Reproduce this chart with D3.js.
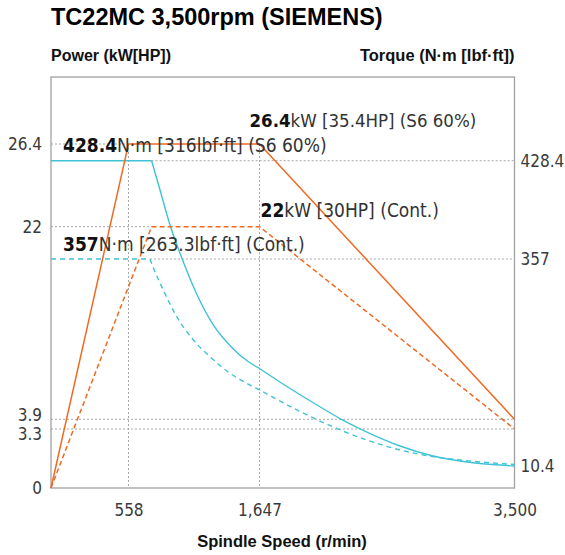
<!DOCTYPE html>
<html>
<head>
<meta charset="utf-8">
<script src="https://cdn.jsdelivr.net/npm/d3@7"></script>
<style>
  html, body { margin: 0; padding: 0; background: #fff; }
  svg { display: block; }
</style>
</head>
<body>
<svg id="chart" width="565" height="555"></svg>
<script>
// ---- data ----
const xTicks = [558, 1647, 3500];
const powerTicks = [0, 3.3, 3.9, 22, 26.4];
const torqueTicks = [10.4, 357, 428.4];
const xTickLabels = ["558", "1,647", "3,500"];
const powerTickLabels = ["0", "3.3", "3.9", "22", "26.4"];
const torqueTickLabels = ["10.4", "357", "428.4"];

const powerS6Rpm = [0, 558, 1647, 3500];
const powerS6Kw  = [0, 26.4, 26.4, 3.9];
const powerContRpm = [0, 750, 1647, 3500];
const powerContKw  = [0, 22, 22, 3.3];

// S6 torque: constant region, then two falling sections (break at 1,647 r/min)
const torqueS6Rpm = [0, 750, 820, 903, 1014, 1125, 1263, 1429, 1541, 1647, 1818, 2065, 2232, 2428, 2668, 2908, 3155, 3500];
const torqueS6Nm  = [428.4, 428.4, 407.1, 381.7, 352.0, 298.4, 246.5, 206.3, 187.0, 173.7, 147.7, 112.5, 89.9, 67.3, 43.9, 27.1, 17.1, 10.4];
// Continuous torque
const torqueContRpm = [0, 736, 762, 847, 959, 1097, 1236, 1402, 1568, 1647, 1941, 2183, 2426, 2668, 2910, 3152, 3500];
const torqueContNm  = [357, 357, 343.6, 305.1, 260.4, 221.4, 193.4, 165.6, 146.0, 137.7, 101.7, 75.7, 54.0, 37.2, 26.0, 19.3, 12.9];

const title = "TC22MC 3,500rpm (SIEMENS)";
const leftAxisTitle = "Power (kW[HP])";
const rightAxisTitle = "Torque (N·m [lbf·ft])";
const xAxisTitle = "Spindle Speed (r/min)";

// ---- layout ----
const svg = d3.select("#chart");
const L = 51, R = 514.5, T = 77, B = 488;
const ORANGE = "#f06a22", CYAN = "#3ec3d6", GRID = "#a8a8a8", FRAME = "#a0a0a0", TXT = "#333";
const NARROW = "'Liberation Sans Narrow', 'DejaVu Sans Condensed', sans-serif";
const BOLD = "'Liberation Sans', Arial, sans-serif";

// schematic (piecewise) scales, as in the original drawing
const x = d3.scaleLinear().domain([0, ...xTicks]).range([L, 128.5, 259.5, R]);
const yP = d3.scaleLinear().domain(powerTicks).range([B, 429, 419.3, 226.7, 144]);
const yT = d3.scaleLinear().domain([0, ...torqueTicks]).range([B, 466, 259, 160.7]);

// ---- grid lines (dotted) ----
const g = svg.append("g");
function hgrid(x1, x2, y) {
  g.append("line").attr("x1", x1).attr("x2", x2).attr("y1", y).attr("y2", y)
    .attr("stroke", GRID).attr("stroke-width", 1).attr("stroke-dasharray", "2,2");
}
function vgrid(xv, y1, y2) {
  g.append("line").attr("x1", xv).attr("x2", xv).attr("y1", y1).attr("y2", y2)
    .attr("stroke", GRID).attr("stroke-width", 1).attr("stroke-dasharray", "2,2");
}
hgrid(L, x(powerS6Rpm[1]), yP(26.4));
hgrid(L, x(powerContRpm[1]), yP(22));
hgrid(L, R, yP(3.9));
hgrid(L, R, yP(3.3));
hgrid(x(torqueS6Rpm[1]), R, yT(428.4));
hgrid(x(torqueContRpm[1]), R, yT(357));
vgrid(x(558), yP(26.4), B);
vgrid(x(1647), yP(26.4), B);

// ---- frame ----
svg.append("rect").attr("x", L).attr("y", T).attr("width", R - L).attr("height", B - T)
  .attr("fill", "none").attr("stroke", FRAME).attr("stroke-width", 1.3);

// ---- axes (tick labels only) ----
const axL = d3.axisLeft(yP).tickValues(powerTicks).tickFormat((d, i) => powerTickLabels[i]).tickSize(0).tickPadding(9);
const axR = d3.axisRight(yT).tickValues(torqueTicks).tickFormat((d, i) => torqueTickLabels[i]).tickSize(0).tickPadding(6);
const axB = d3.axisBottom(x).tickValues(xTicks).tickFormat((d, i) => xTickLabels[i]).tickSize(0).tickPadding(16);
function styleAxis(sel) {
  sel.select(".domain").remove();
  sel.selectAll("text").attr("font-family", NARROW).attr("font-size", 17).attr("fill", "#3a3a3a");
}
const gL = svg.append("g").attr("transform", `translate(${L},0)`).call(axL).call(styleAxis);
svg.append("g").attr("transform", `translate(${R},0)`).call(axR).call(styleAxis);
svg.append("g").attr("transform", `translate(0,${B})`).call(axB).call(styleAxis);
// separate the two close labels 3.9 / 3.3
gL.selectAll(".tick").filter(d => d === 3.9).select("text").attr("dy", "0.32em").attr("y", -4);
gL.selectAll(".tick").filter(d => d === 3.3).select("text").attr("dy", "0.32em").attr("y", 5);

// ---- lines ----
const linear = d3.line().x(d => x(d[0]));
function drawPath(pts, yScale, curve, color, dash, width) {
  svg.append("path").datum(pts)
    .attr("d", d3.line().x(d => x(d[0])).y(d => yScale(d[1])).curve(curve))
    .attr("fill", "none").attr("stroke", color).attr("stroke-width", width)
    .attr("stroke-dasharray", dash);
}
function zipPts(rpm, vals) { return rpm.map((r, i) => [r, vals[i]]); }

// continuous torque: flat part + smooth fall
const tc = zipPts(torqueContRpm, torqueContNm);
drawPath(tc.slice(0, 2), yT, d3.curveLinear, CYAN, "5,4", 1.4);
drawPath(tc.slice(1), yT, d3.curveMonotoneX, CYAN, "5,4", 1.4);
// S6 torque: flat part + fall to 1,647 + fall to 3,500
const ts = zipPts(torqueS6Rpm, torqueS6Nm);
const brk = torqueS6Rpm.indexOf(1647);
drawPath(ts.slice(0, 2), yT, d3.curveLinear, CYAN, null, 1.4);
drawPath(ts.slice(1, brk + 1), yT, d3.curveMonotoneX, CYAN, null, 1.4);
drawPath(ts.slice(brk), yT, d3.curveMonotoneX, CYAN, null, 1.4);
// power
drawPath(zipPts(powerContRpm, powerContKw), yP, d3.curveLinear, ORANGE, "5,3", 1.5);
drawPath(zipPts(powerS6Rpm, powerS6Kw), yP, d3.curveLinear, ORANGE, null, 1.5);

// ---- annotations ----
function annot(xp, yp, bold, rest, size) {
  const t = svg.append("text").attr("x", xp).attr("y", yp)
    .attr("font-family", NARROW).attr("font-size", size || 19).attr("fill", TXT);
  t.append("tspan").attr("font-weight", "bold").attr("fill", "#111").text(bold);
  t.append("tspan").text(rest);
}
annot(x(1647) - 10, yP(26.4) - 17, "26.4", "kW [35.4HP] (S6 60%)", 18.5);
annot(L + 12, yP(26.4) + 8, "428.4", "N·m [316lbf·ft]  (S6 60%)");
annot(x(1647) + 1, yP(22) - 10, "22", "kW [30HP] (Cont.)");
annot(L + 12, yT(357) - 8, "357", "N·m [263.3lbf·ft]  (Cont.)");

// ---- titles ----
svg.append("text").attr("x", 51).attr("y", 25).text(title)
  .attr("font-family", BOLD).attr("font-weight", "bold").attr("font-size", 23.5).attr("fill", "#000");
svg.append("text").attr("x", 51).attr("y", 61).text(leftAxisTitle)
  .attr("font-family", BOLD).attr("font-weight", "bold").attr("font-size", 16).attr("fill", "#111");
svg.append("text").attr("x", R).attr("y", 61).attr("text-anchor", "end").text(rightAxisTitle)
  .attr("font-family", BOLD).attr("font-weight", "bold").attr("font-size", 16.5).attr("fill", "#111");
svg.append("text").attr("x", 282).attr("y", 547).attr("text-anchor", "middle").text(xAxisTitle)
  .attr("font-family", BOLD).attr("font-weight", "bold").attr("font-size", 16.5).attr("fill", "#111");
</script>
</body>
</html>
